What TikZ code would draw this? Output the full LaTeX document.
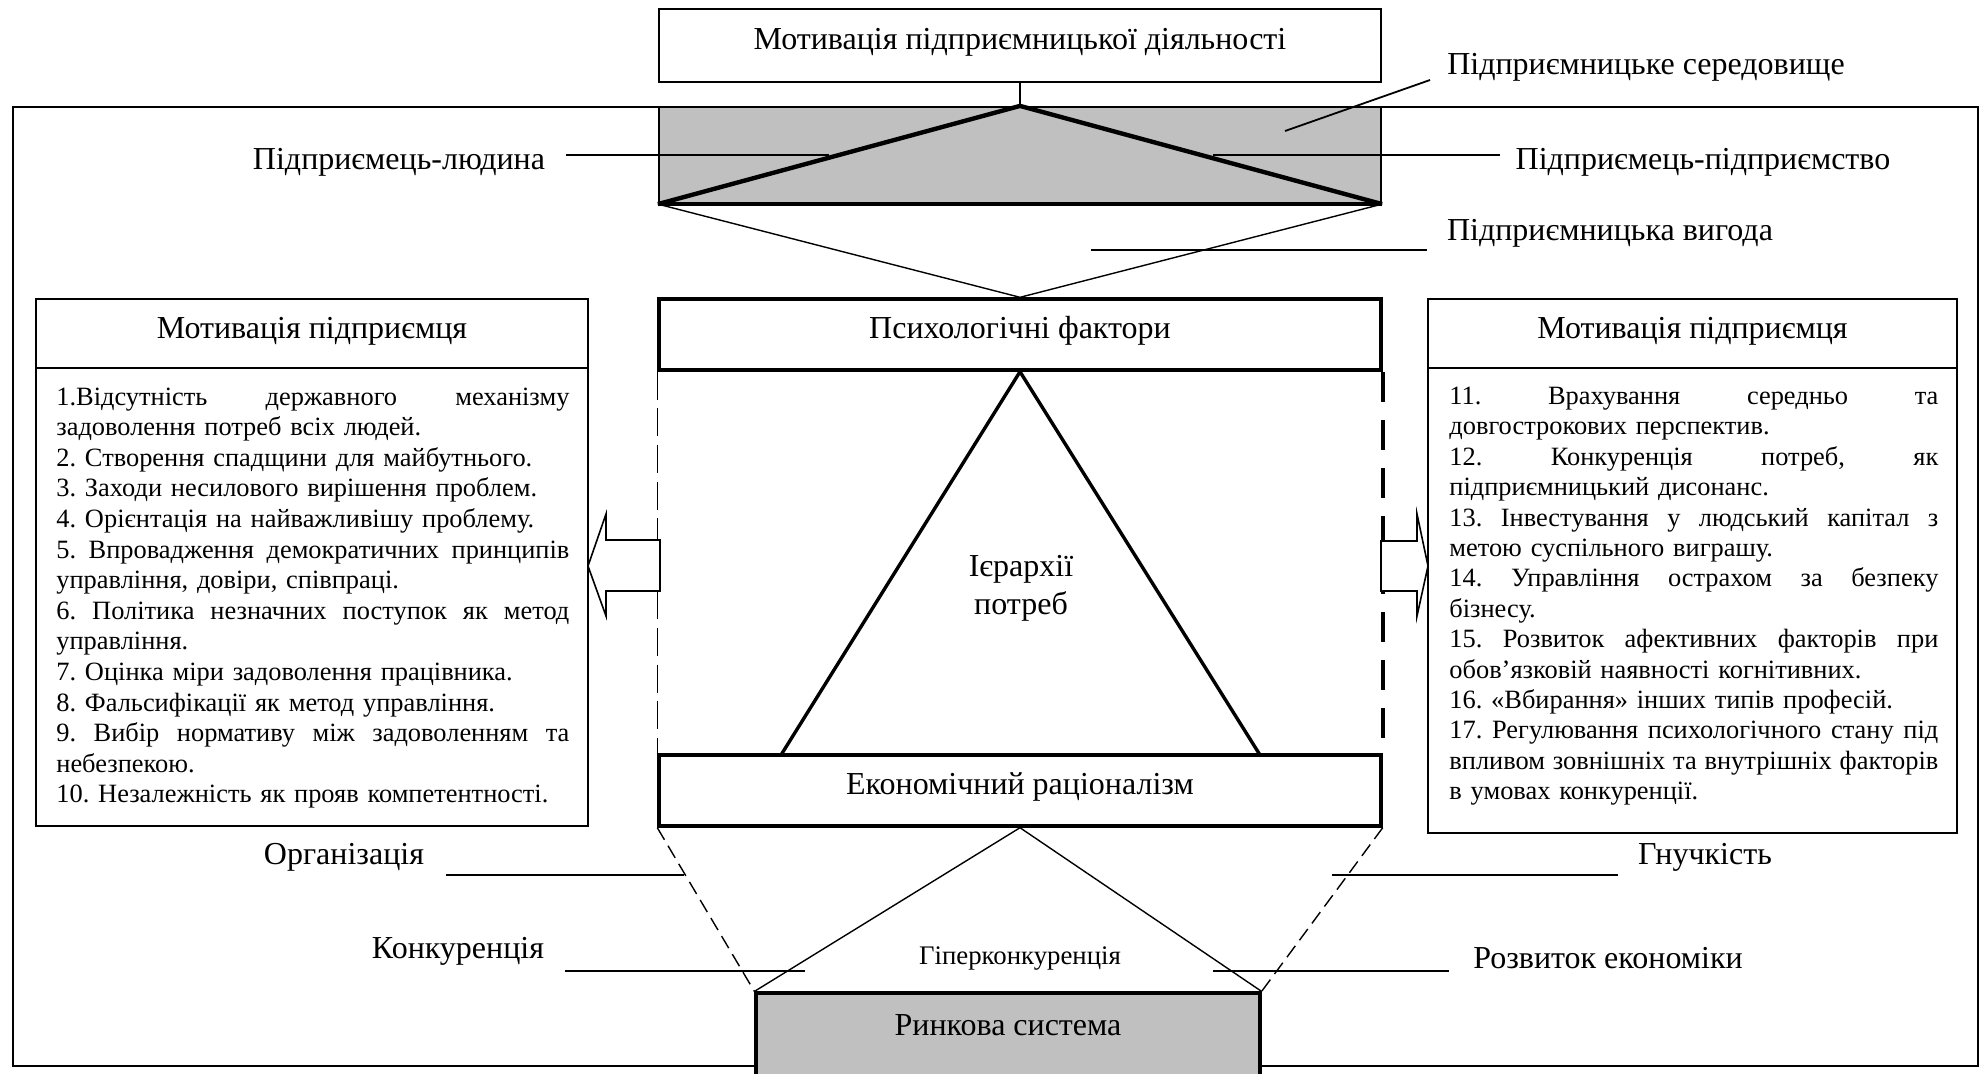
\documentclass[tikz,border=0pt]{standalone}
\usepackage{fontspec}
\setmainfont{Liberation Serif}
\usetikzlibrary{calc}
\definecolor{panelgrey}{HTML}{C0C0C0}
\frenchspacing
\newlength\listw
% one line of a justified list: spaces stretched to the full width
\newcommand\jl[1]{\noindent\makebox[\listw][s]{\spaceskip=0.25em plus 1fil\relax #1}\par}
% last line of a list item: set at its natural width
\newcommand\el[1]{\noindent\makebox[\listw][l]{#1}\par}
\begin{document}
\begin{tikzpicture}[x=0.5pt,y=-0.5pt,
  lbl/.style={font=\fontsize{16}{18}\selectfont, inner sep=0},
  smalllbl/.style={font=\fontsize{13.4}{15}\selectfont, inner sep=0},
  box/.style={draw, line width=1.1pt, inner sep=0, text height=11pt, text depth=7.5pt,
    font=\fontsize{16}{18}\selectfont},
  heavybox/.style={box, line width=1.7pt},
  listbox/.style={draw, line width=1pt, inner sep=0},
  listtext/.style={inner sep=0, anchor=base west, font=\fontsize{13.2}{15.3}\selectfont},
  leader/.style={line width=0.9pt},
  thinline/.style={line width=0.7pt},
  blockarrow/.style={draw, line width=0.8pt, fill=white, line join=miter},
]
\useasboundingbox (0,0) rectangle (1986,1073);
\fill[white] (0,0) rectangle (1986,1073);

% outer frame of the environment
\draw[line width=0.9pt] (13,107) rectangle (1978,1066);

% top box and the environment panel
\node[box, minimum width=361pt, minimum height=36.5pt] (top) at (1020,45.5)
  {Мотивація підприємницької діяльності};
\node[box, fill=panelgrey, minimum width=361pt, minimum height=48pt] (env) at (1020,155) {};
\draw[line width=1pt] (top.south) -- (env.north);
\draw[line width=2.2pt] (env.south west) -- (env.north) -- (env.south east);
\draw[line width=2.2pt] (env.south west) -- (env.south east);

% central column
\node[heavybox, minimum width=361pt, minimum height=35.5pt] (psych) at (1020,334.5)
  {Психологічні фактори};
\node[heavybox, minimum width=361pt, minimum height=35.5pt] (econ) at (1020,790.5)
  {Економічний раціоналізм};
\draw[thinline] (env.south west) -- (psych.north) -- (env.south east);

% hierarchy of needs
\coordinate (pyrL) at (781,755);
\coordinate (pyrR) at (1260,755);
\draw[line width=1.7pt, line join=miter] (pyrL) -- (psych.south) -- (pyrR);
\node[lbl, align=center, font=\fontsize{16}{19}\selectfont] (needs) at (1021,588)
  {Ієрархії\\потреб};

% side edges of the central column
\draw[line width=0.75pt, dash pattern=on 14pt off 4.3pt] (psych.south west) -- (econ.north west);
\draw[line width=1.8pt, dash pattern=on 15pt off 9pt] (psych.south east) -- (econ.north east);

% market system
\node[draw, fill=panelgrey, line width=1.6pt, minimum width=252pt, minimum height=43.5pt, inner sep=0]
  (market) at (1008,1036.5) {};
\node[lbl] (marketlbl) at (1008,1025) {Ринкова система};
\draw[thinline, dash pattern=on 7pt off 3.5pt] (econ.south west) -- (market.north west);
\draw[thinline, dash pattern=on 7pt off 3.5pt] (econ.south east) -- (market.north east);
\draw[thinline] (market.north west) -- (econ.south) -- (market.north east);
\node[smalllbl] (hyper) at (1020,958) {Гіперконкуренція};

% left list
\node[listbox, minimum width=276pt, minimum height=263.5pt] (lbox) at (312,562.5) {};
\draw[line width=1pt] ($(lbox.north west)+(0,70)$) -- ($(lbox.north east)+(0,70)$);
\node[lbl] (lhead) at (312,331) {Мотивація підприємця};
\node[listtext, text width=256.5pt] (litems) at (56,405) {%
\setlength\listw{256.5pt}%
\jl{1.Відсутність державного механізму}
\el{задоволення потреб всіх людей.}
\el{2. Створення спадщини для майбутнього.}
\el{3. Заходи несилового вирішення проблем.}
\el{4. Орієнтація на найважливішу проблему.}
\jl{5. Впровадження демократичних принципів}
\el{управління, довіри, співпраці.}
\jl{6. Політика незначних поступок як метод}
\el{управління.}
\el{7. Оцінка міри задоволення працівника.}
\el{8. Фальсифікації як метод управління.}
\jl{9. Вибір нормативу між задоволенням та}
\el{небезпекою.}
\el{10. Незалежність як прояв компетентності.}};

% right list
\node[listbox, minimum width=264.5pt, minimum height=267pt] (rbox) at (1692.5,566) {};
\draw[line width=1pt] ($(rbox.north west)+(0,70)$) -- ($(rbox.north east)+(0,70)$);
\node[lbl] (rhead) at (1692.5,331) {Мотивація підприємця};
\node[listtext, text width=244.5pt, font=\fontsize{13.2}{15.2}\selectfont] (ritems) at (1449,404.5) {%
\setlength\listw{244.5pt}%
\jl{11. Врахування середньо та}
\el{довгострокових перспектив.}
\jl{12. Конкуренція потреб, як}
\el{підприємницький дисонанс.}
\jl{13. Інвестування у людський капітал з}
\el{метою суспільного виграшу.}
\jl{14. Управління острахом за безпеку}
\el{бізнесу.}
\jl{15. Розвиток афективних факторів при}
\el{обов’язковій наявності когнітивних.}
\el{16. «Вбирання» інших типів професій.}
\jl{17. Регулювання психологічного стану під}
\jl{впливом зовнішніх та внутрішніх факторів}
\el{в умовах конкуренції.}};

% block arrows from the central column to the lists
\draw[blockarrow] (660,540) -- (606,540) -- (606,514) -- (588,566) -- (606,616) -- (606,591) -- (660,591) -- cycle;
\draw[blockarrow] (1381,541) -- (1417,541) -- (1417,514) -- (1428,566) -- (1417,616) -- (1417,591) -- (1381,591) -- cycle;

% labels with their leader lines
\node[lbl] (envlbl) at (1646,67) {Підприємницьке середовище};
\coordinate (envA) at (1430,80);
\coordinate (envB) at (1285,131);
\draw[leader] (envA) -- (envB);

\node[lbl] (person) at (399,162) {Підприємець-людина};
\coordinate (personA) at (566,155);
\coordinate (personB) at (829,155);
\draw[leader] (personA) -- (personB);

\node[lbl] (firm) at (1703,162) {Підприємець-підприємство};
\coordinate (firmA) at (1213,155);
\coordinate (firmB) at (1500,155);
\draw[leader] (firmA) -- (firmB);

\node[lbl] (benefit) at (1610,233) {Підприємницька вигода};
\coordinate (benefitA) at (1091,250);
\coordinate (benefitB) at (1427,250);
\draw[leader] (benefitA) -- (benefitB);

\node[lbl] (org) at (344,857) {Організація};
\coordinate (orgA) at (446,875);
\coordinate (orgB) at (684,875);
\draw[leader] (orgA) -- (orgB);

\node[lbl] (flex) at (1705,857) {Гнучкість};
\coordinate (flexA) at (1332,875);
\coordinate (flexB) at (1618,875);
\draw[leader] (flexA) -- (flexB);

\node[lbl] (comp) at (458,951) {Конкуренція};
\coordinate (compA) at (565,971);
\coordinate (compB) at (805,971);
\draw[leader] (compA) -- (compB);

\node[lbl] (growth) at (1608,958) {Розвиток економіки};
\coordinate (growthA) at (1213,971);
\coordinate (growthB) at (1449,971);
\draw[leader] (growthA) -- (growthB);
\end{tikzpicture}
\end{document}
